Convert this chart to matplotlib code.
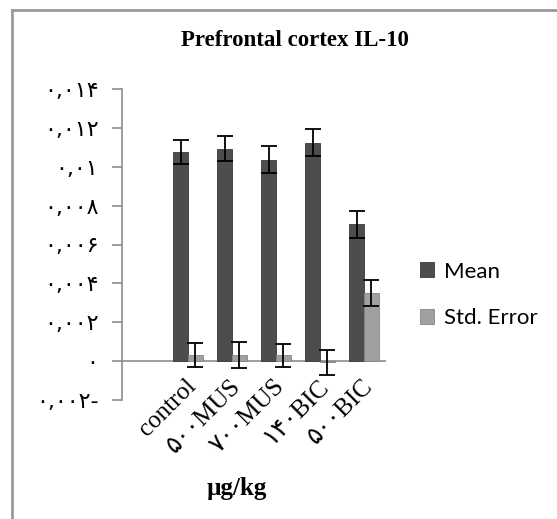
import matplotlib
matplotlib.use("Agg")
import matplotlib.pyplot as plt
from matplotlib.lines import Line2D
import numpy as np

# values
groups     = ["control", "۵۰۰MUS", "۷۰۰MUS", "۱۴۰BIC", "۵۰۰BIC"]
mean_vals  = [0.01076, 0.01093, 0.01037, 0.01124, 0.00704]
mean_err   = [0.00064, 0.00064, 0.00070, 0.00068, 0.00070]
se_vals    = [0.00030, 0.00030, 0.00030, -0.00005, 0.00350]
se_err     = [0.00062, 0.00066, 0.00060, 0.00064, 0.00066]
yticks     = [-0.002, 0, 0.002, 0.004, 0.006, 0.008, 0.010, 0.012, 0.014]
ytick_lbls = ["۰,۰۰۲-", "۰", "۰,۰۰۲", "۰,۰۰۴", "۰,۰۰۶", "۰,۰۰۸", "۰,۰۱", "۰,۰۱۲", "۰,۰۱۴"]

W, H = 557, 519
fig = plt.figure(figsize=(W / 100, H / 100), dpi=100)
fig.patch.set_facecolor("white")

# chart-area border (only left and top visible in crop)
fig.add_artist(Line2D([12 / W, 12 / W], [0, 1 - 10 / H], color="#9a9a9a", lw=2))
fig.add_artist(Line2D([12 / W, 1], [1 - 10 / H, 1 - 10 / H], color="#9a9a9a", lw=2))

ax = fig.add_axes([122 / W, 1 - 400 / H, 264 / W, 311 / H])

x = np.arange(len(groups))
bw = 0.33
ekw = dict(ecolor="black", elinewidth=1.3, capsize=6, capthick=1.3)
ax.bar(x - 0.165, mean_vals, bw, color="#4d4d4d", edgecolor="#3a3a3a", lw=0.6,
       yerr=mean_err, error_kw=ekw, label="Mean", zorder=2)
ax.bar(x + 0.165, se_vals, bw, color="#a0a0a0", edgecolor="#858585", lw=0.6,
       yerr=se_err, error_kw=ekw, label="Std. Error", zorder=2)

ax.set_xlim(-1.5, 4.5)
ax.set_ylim(-0.002, 0.014)
ax.axhline(0, color="#8c8c8c", lw=1.2, zorder=1)

for s in ["top", "right", "bottom"]:
    ax.spines[s].set_visible(False)
ax.spines["left"].set_color("#8c8c8c")
ax.spines["left"].set_linewidth(1.2)
ax.set_xticks([])
ax.set_yticks(yticks)
ax.set_yticklabels(ytick_lbls, family="DejaVu Sans", fontsize=16)
ax.tick_params(axis="y", direction="out", length=7, width=1.2, color="#8c8c8c", pad=10)

for i, g in enumerate(groups):
    ax.annotate(g, xy=(i, 0), xytext=(-2, -10), textcoords="offset points",
                rotation=45, rotation_mode="anchor", ha="right", va="top",
                family=["Liberation Serif", "DejaVu Sans"], fontsize=18)

fig.text(295 / W, 1 - 40 / H, "Prefrontal cortex IL-10", ha="center", va="center",
         family="Liberation Serif", fontweight="bold", fontsize=16.5)
fig.text(237 / W, 1 - 488 / H, "µg/kg", ha="center", va="center",
         family="Liberation Serif", fontweight="bold", fontsize=18)

leg = fig.legend(loc="center left", bbox_to_anchor=(400 / W, 1 - 295 / H), frameon=False,
                 prop={"family": "Lato", "size": 16}, handlelength=0.65, handleheight=0.65,
                 handletextpad=0.45, labelspacing=1.2)

fig.savefig("out.png", dpi=100)
